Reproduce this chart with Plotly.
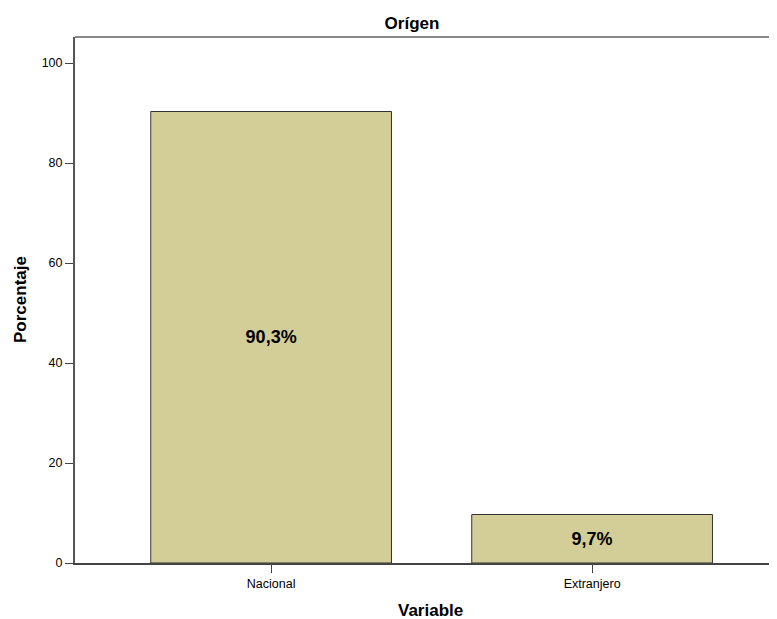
"""Orígen - porcentaje por variable."""

import plotly.graph_objects as go

categorias = ["Nacional", "Extranjero"]
porcentajes = [90.3, 9.7]
etiquetas = ["90,3%", "9,7%"]

FONT = "Liberation Sans, Arial, sans-serif"

# la página del navegador añade 8px de margen al body
W, H = 769, 611

fig = go.Figure(
    go.Bar(
        x=categorias,
        y=porcentajes,
        text=etiquetas,
        textposition="inside",
        insidetextanchor="middle",
        textangle=0,
        textfont=dict(family=FONT, size=18, color="#000000", weight="bold"),
        marker=dict(color="#d3ce98", line=dict(color="#333333", width=1)),
        width=0.75,
        hoverinfo="skip",
    )
)

fig.update_layout(
    width=W,
    height=H,
    margin=dict(l=67, r=0, t=29, b=56),
    paper_bgcolor="white",
    plot_bgcolor="white",
    showlegend=False,
    font=dict(family=FONT, color="#000000"),
    title=dict(
        text="Orígen",
        x=404 / W,
        xref="container",
        xanchor="center",
        y=1 - 15 / H,
        yref="container",
        yanchor="middle",
        font=dict(size=17, weight="bold"),
    ),
)

fig.update_xaxes(
    range=[-0.611, 1.576],
    showgrid=False,
    zeroline=False,
    showline=True,
    linecolor="#444444",
    linewidth=1.5,
    ticks="outside",
    ticklen=8,
    tickcolor="#444444",
    tickfont=dict(size=12.5),
)
fig.update_yaxes(
    range=[0, 105.2],
    tickvals=[0, 20, 40, 60, 80, 100],
    showgrid=False,
    zeroline=False,
    showline=True,
    linecolor="#555555",
    linewidth=2,
    ticks="outside",
    ticklen=8,
    tickcolor="#444444",
    tickfont=dict(size=12.5),
)

# borde superior del marco
fig.add_shape(
    type="line", xref="paper", yref="paper",
    x0=0, x1=1, y0=1, y1=1,
    line=dict(color="#8a8a8a", width=2),
)

fig.add_annotation(
    text="Porcentaje", xref="paper", yref="paper",
    x=0, y=0.5, xshift=-55, textangle=-90,
    showarrow=False, xanchor="center", yanchor="middle",
    font=dict(size=17, weight="bold"),
)
fig.add_annotation(
    text="Variable", xref="paper", yref="paper",
    x=(422 - 67) / (W - 67), y=0, yshift=-47,
    showarrow=False, xanchor="center", yanchor="middle",
    font=dict(size=17, weight="bold"),
)

fig.write_html("out.html")
